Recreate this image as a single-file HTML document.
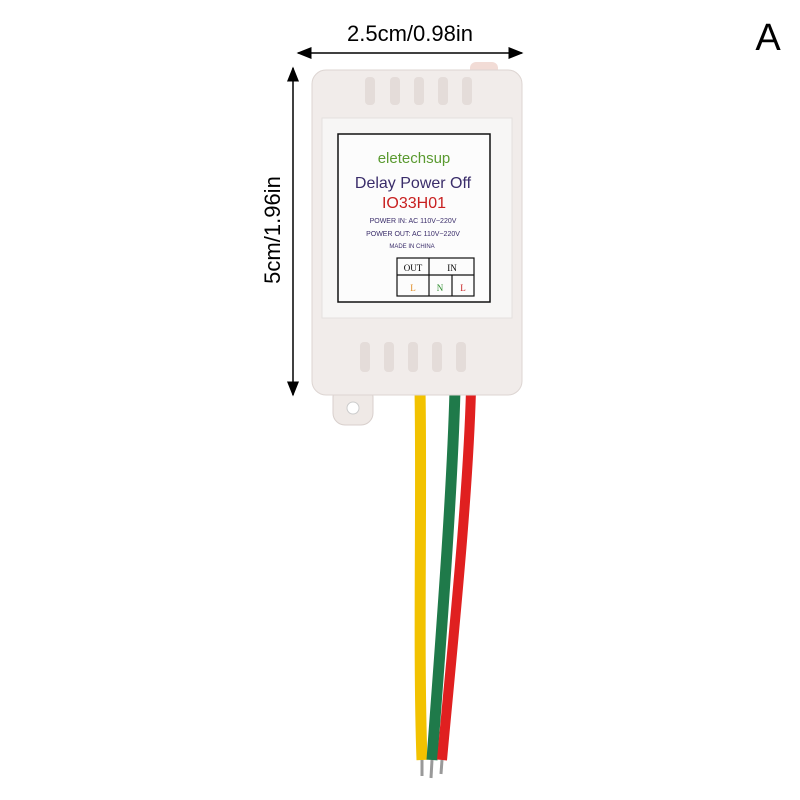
<!DOCTYPE html>
<html><head><style>
body{margin:0;width:800px;height:800px;background:#fff;overflow:hidden}
svg{display:block}
text{font-family:"Liberation Sans",sans-serif}
</style></head><body>
<svg width="800" height="800" viewBox="0 0 800 800">
<defs>
<marker id="ar" markerWidth="10" markerHeight="8" refX="9" refY="4" orient="auto-start-reverse"><path d="M0,0 L10,4 L0,8 z" fill="#000"/></marker>
</defs>
<text x="410" y="41" font-size="22" text-anchor="middle">2.5cm/0.98in</text>
<line x1="298" y1="53" x2="522" y2="53" stroke="#000" stroke-width="1.5" marker-start="url(#ar)" marker-end="url(#ar)"/>
<line x1="293" y1="68" x2="293" y2="395" stroke="#000" stroke-width="1.5" marker-start="url(#ar)" marker-end="url(#ar)"/>
<text transform="translate(280,230) rotate(-90)" font-size="22" text-anchor="middle">5cm/1.96in</text>
<text x="768" y="50" font-size="38" text-anchor="middle">A</text>
<!-- wires -->
<path d="M420,390 C422,500 418,650 422,760" stroke="#f2c200" stroke-width="11" fill="none"/>
<path d="M455,390 C452,500 440,650 432,760" stroke="#1f7a4a" stroke-width="11" fill="none"/>
<path d="M471,390 C468,500 452,650 442,760" stroke="#e02020" stroke-width="10" fill="none"/>
<!-- tab -->
<rect x="333" y="385" width="40" height="40" rx="12" fill="#efe9e6" stroke="#d8cfcc"/>
<circle cx="353" cy="408" r="6" fill="#fff" stroke="#ccc"/>
<rect x="470" y="62" width="28" height="14" rx="6" fill="#f2dcd6"/>
<!-- body -->
<rect x="312" y="70" width="210" height="325" rx="14" fill="#f1ecea" stroke="#ddd5d2"/>
<g fill="#e4dcd9">
<rect x="365" y="77" width="10" height="28" rx="4"/><rect x="390" y="77" width="10" height="28" rx="4"/><rect x="414" y="77" width="10" height="28" rx="4"/><rect x="438" y="77" width="10" height="28" rx="4"/><rect x="462" y="77" width="10" height="28" rx="4"/>
<rect x="360" y="342" width="10" height="30" rx="4"/><rect x="384" y="342" width="10" height="30" rx="4"/><rect x="408" y="342" width="10" height="30" rx="4"/><rect x="432" y="342" width="10" height="30" rx="4"/><rect x="456" y="342" width="10" height="30" rx="4"/>
</g>
<rect x="322" y="118" width="190" height="200" fill="#f7f6f5" stroke="#e4e0de"/>
<rect x="338" y="134" width="152" height="168" fill="#fcfcfc" stroke="#111" stroke-width="1.5"/>
<text x="414" y="163" font-size="15" fill="#5a9a30" text-anchor="middle">eletechsup</text>
<text x="413" y="188" font-size="16" fill="#3a2d6a" text-anchor="middle">Delay Power Off</text>
<text x="414" y="208" font-size="16" fill="#c82020" text-anchor="middle">IO33H01</text>
<text x="413" y="223" font-size="7" fill="#3a2d6a" text-anchor="middle">POWER IN: AC 110V~220V</text>
<text x="413" y="236" font-size="7" fill="#3a2d6a" text-anchor="middle">POWER OUT: AC 110V~220V</text>
<text x="412" y="248" font-size="6" fill="#3a2d6a" text-anchor="middle">MADE IN CHINA</text>
<g stroke="#111" stroke-width="1.2" fill="none">
<rect x="397" y="258" width="77" height="38"/>
<line x1="397" y1="275" x2="474" y2="275"/>
<line x1="429" y1="258" x2="429" y2="296"/>
<line x1="452" y1="275" x2="452" y2="296"/>
</g>
<text x="413" y="271" font-size="9" font-family="Liberation Serif" text-anchor="middle" style="font-family:'Liberation Serif',serif">OUT</text>
<text x="452" y="271" font-size="9" text-anchor="middle" style="font-family:'Liberation Serif',serif">IN</text>
<text x="413" y="291" font-size="9" fill="#e08a20" text-anchor="middle" style="font-family:'Liberation Serif',serif">L</text>
<text x="440" y="291" font-size="9" fill="#2a8a2a" text-anchor="middle" style="font-family:'Liberation Serif',serif">N</text>
<text x="463" y="291" font-size="9" fill="#c82020" text-anchor="middle" style="font-family:'Liberation Serif',serif">L</text>
<!-- wire tips -->
<g stroke="#999" stroke-width="3"><line x1="422" y1="760" x2="422" y2="776"/><line x1="432" y1="760" x2="431" y2="778"/><line x1="442" y1="760" x2="441" y2="774"/></g>
</svg>
</body></html>
